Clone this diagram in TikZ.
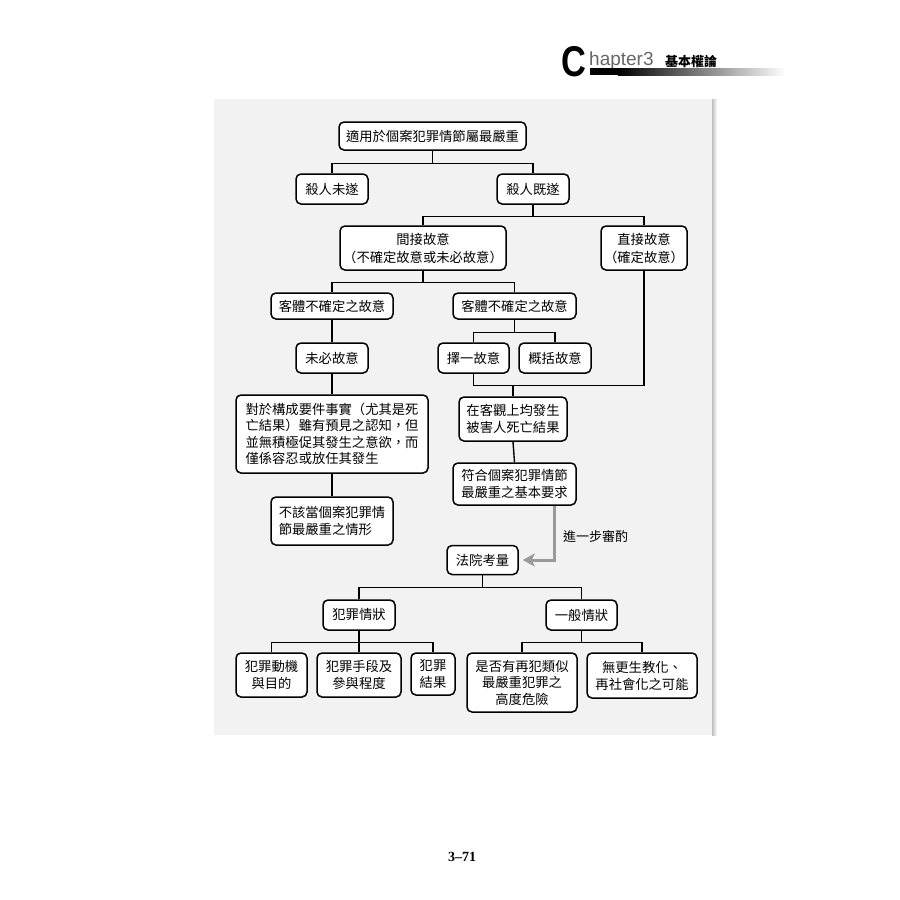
\documentclass[tikz,border=0pt]{standalone}
\usepackage{fontspec}
\setmainfont{Liberation Sans}
\newfontfamily\cjk{Noto Sans CJK TC}
\newfontfamily\pgnum{Liberation Serif}
\usetikzlibrary{arrows.meta}
\begin{document}
\begin{tikzpicture}[x=1pt,y=-1pt,
  blk/.style={draw,line width=1.5pt,rounded corners=5pt,fill=white,inner sep=0pt,align=center,
    font=\cjk\fontsize{13.3}{17}\selectfont},
  ln/.style={line width=1.4pt},
  arr/.style={line width=3pt,draw=black!40,shorten >=4pt,-{Stealth[length=12pt,width=13pt,inset=3pt]}}]
\useasboundingbox (0,0) rectangle (900,900);
%header
\node[anchor=base west,inner sep=0,xscale=0.8,font=\fontsize{43}{43}\selectfont\bfseries] (chC) at (561,76) {C};
\node[anchor=base west,inner sep=0,text=black!60,font=\fontsize{19}{19}\selectfont] (chN) at (589,65) {hapter3};
\node[anchor=base west,inner sep=0,font=\cjk\bfseries\fontsize{13}{13}\selectfont] (chT) at (665,66) {基本權論};
\fill[black] (590,68) rectangle (618,75);
\shade[left color=black,right color=white] (618,68) rectangle (785,75);
%panel
\fill[black!5] (214,99) rectangle (712,735);
\shade[left color=black!25,right color=white] (712,99) rectangle (717,735);
%tree
\node[blk,minimum width=187,minimum height=28] (top) at (432.5,136) {適用於個案犯罪情節屬最嚴重};
\node[blk,minimum width=72,minimum height=30] (wS) at (332,189) {殺人未遂};
\node[blk,minimum width=72,minimum height=30] (jS) at (533,189) {殺人既遂};
\node[blk,minimum width=166,minimum height=44,font=\cjk\fontsize{13.3}{18}\selectfont] (jJ) at (423,248) {間接故意\\（不確定故意或未必故意）};
\node[blk,minimum width=86,minimum height=44,font=\cjk\fontsize{13.3}{18}\selectfont] (zJ) at (644,248) {直接故意\\（確定故意）};
\node[blk,minimum width=122,minimum height=26] (kL) at (332,306) {客體不確定之故意};
\node[blk,minimum width=123,minimum height=26] (kR) at (514.5,306) {客體不確定之故意};
\node[blk,minimum width=72,minimum height=30] (wB) at (332,358) {未必故意};
\node[blk,minimum width=71,minimum height=30] (zY) at (473.5,358) {擇一故意};
\node[blk,minimum width=72,minimum height=30] (gK) at (555,358) {概括故意};
\node[blk,minimum width=192,minimum height=78,align=left,font=\cjk\fontsize{13.3}{16.5}\selectfont] (dS) at (332,434)
  {對於構成要件事實（尤其是死\\亡結果）雖有預見之認知，但\\並無積極促其發生之意欲，而\\僅係容忍或放任其發生};
\node[blk,minimum width=108,minimum height=44] (zK) at (513,419) {在客觀上均發生\\被害人死亡結果};
\node[blk,minimum width=123,minimum height=42] (fH) at (514.5,484) {符合個案犯罪情節\\最嚴重之基本要求};
\node[blk,minimum width=122,minimum height=48,align=left] (bG) at (332,521) {不該當個案犯罪情\\節最嚴重之情形};
\node[blk,minimum width=71,minimum height=29] (fY) at (482.5,560) {法院考量};
\node[anchor=west,inner sep=0,font=\cjk\fontsize{13}{17}\selectfont] (jB) at (563,537) {進一步審酌};
\node[blk,minimum width=72,minimum height=30] (fZ) at (359,615) {犯罪情狀};
\node[blk,minimum width=71,minimum height=30] (yB) at (581.5,615) {一般情狀};
\node[blk,minimum width=71,minimum height=44] (dJ) at (271.5,675) {犯罪動機\\與目的};
\node[blk,minimum width=84,minimum height=44] (sD) at (359,675) {犯罪手段及\\參與程度};
\node[blk,minimum width=44,minimum height=42] (jG) at (433,674) {犯罪\\結果};
\node[blk,minimum width=110,minimum height=59,font=\cjk\fontsize{13.3}{16.5}\selectfont] (sF) at (522,682.5) {是否有再犯類似\\最嚴重犯罪之\\高度危險};
\node[blk,minimum width=110,minimum height=45] (wG) at (642,675.5) {無更生教化、\\再社會化之可能};
%connectors
\draw[ln] (top.south)--++(0,13)coordinate(b1);
\draw[ln] (wS.north)|-(b1)-|(jS.north);
\draw[ln] (jS.south)--++(0,12)coordinate(b2);
\draw[ln] (jJ.north)|-(b2)-|(zJ.north);
\draw[ln] (jJ.south)--++(0,12)coordinate(b3);
\draw[ln] (kL.north)|-(b3)-|(kR.north);
\draw[ln] (kL.south)--(wB.north);
\draw[ln] (wB.south)--(dS.north);
\draw[ln] (dS.south)--(bG.north);
\draw[ln] (kR.south)--++(0,13)coordinate(b4);
\draw[ln] (zY.north)|-(b4)-|(gK.north);
\draw[ln] (zY.south)--++(0,12)coordinate(b5)-|(zJ.south);
\draw[ln] (zK.north)|-(b5);
\draw[ln] (zK.south)--(fH.north);
\draw[arr] ([xshift=40]fH.south)|-(fY.east);
\draw[ln] (fY.south)--++(0,12)coordinate(b6);
\draw[ln] (fZ.north)|-(b6)-|(yB.north);
\draw[ln] (fZ.south)--++(0,12)coordinate(b7);
\draw[ln] (dJ.north)|-(b7)-|(jG.north);
\draw[ln] (b7)--(sD.north);
\draw[ln] (yB.south)--++(0,12)coordinate(b8);
\draw[ln] (sF.north)|-(b8)-|(wG.north);
%page number
\node[inner sep=0,font=\pgnum\bfseries\fontsize{14}{14}\selectfont] (pg) at (462,857) {3–71};
\end{tikzpicture}
\end{document}
